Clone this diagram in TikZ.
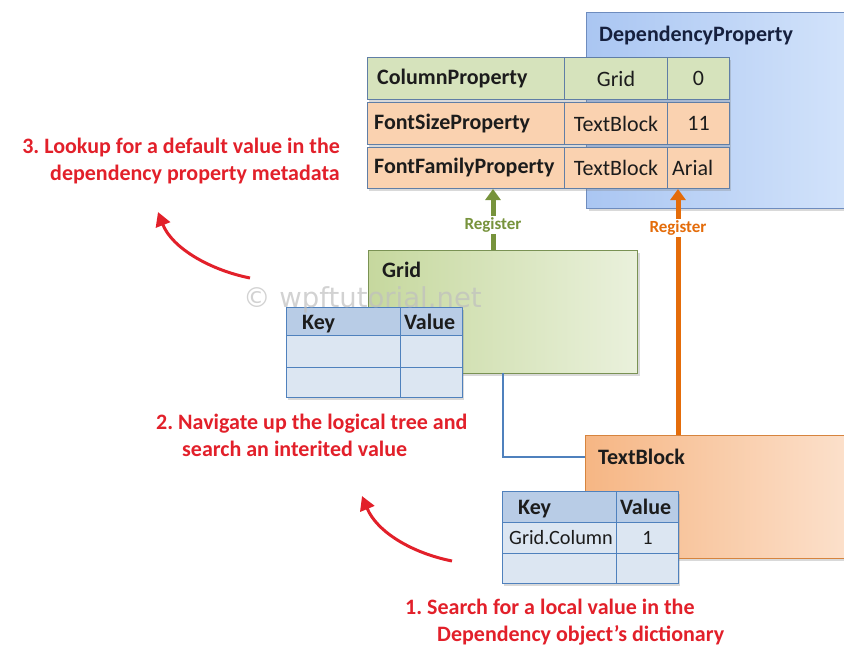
\documentclass[tikz,border=0pt]{standalone}
\usepackage{fontspec}
\setmainfont{Carlito}
\newfontfamily\markfont{DejaVu Sans}
\usetikzlibrary{shadows,arrows.meta}
\frenchspacing

\definecolor{dpL}{RGB}{170,198,242}
\definecolor{dpR}{RGB}{212,228,251}
\definecolor{dpBorder}{RGB}{110,140,190}
\definecolor{gridL}{RGB}{198,216,158}
\definecolor{gridR}{RGB}{234,241,220}
\definecolor{gridBorder}{RGB}{122,146,84}
\definecolor{tbL}{RGB}{246,182,132}
\definecolor{tbR}{RGB}{252,226,206}
\definecolor{tbBorder}{RGB}{214,132,62}
\definecolor{rowGreen}{RGB}{214,227,188}
\definecolor{rowOrange}{RGB}{250,210,176}
\definecolor{rowBorder}{RGB}{96,126,166}
\definecolor{keyHead}{RGB}{184,204,230}
\definecolor{keyCell}{RGB}{220,230,242}
\definecolor{keyBorder}{RGB}{79,129,189}
\definecolor{regGreen}{RGB}{119,147,60}
\definecolor{regOrange}{RGB}{228,108,10}
\definecolor{stepRed}{RGB}{226,32,42}
\definecolor{linkBlue}{RGB}{79,129,189}
\definecolor{ink}{RGB}{28,28,28}
\definecolor{navy}{RGB}{22,32,62}

\begin{document}
\begin{tikzpicture}[x=1pt,y=-1pt,
  shade/.style={drop shadow={shadow xshift=2pt,shadow yshift=-2.5pt,opacity=0.3}},
  classbox/.style={draw, line width=1.3pt, shade, inner sep=0pt, anchor=north west},
  rowcell/.style={draw=rowBorder, line width=1pt, inner sep=0pt, anchor=north west},
  keycell/.style={draw=keyBorder, line width=1pt, inner sep=0pt, anchor=north west},
  bigtxt/.style={font=\fontsize{22}{26}\selectfont\bfseries, text=ink, inner sep=0pt},
  celltxt/.style={font=\fontsize{22}{26}\selectfont, text=ink, inner sep=0pt},
  smalltxt/.style={font=\fontsize{20.3}{24}\selectfont, text=ink, inner sep=0pt},
  reglabel/.style={font=\fontsize{17}{20}\selectfont\bfseries, fill=white, inner sep=1.5pt},
  steplabel/.style={font=\fontsize{22}{26.5}\selectfont\bfseries, text=stepRed, inner sep=0pt},
  register/.style={line width=5pt, -{Triangle[length=11pt,width=15pt]}},
  steparrow/.style={draw=stepRed, line width=3pt, -{Triangle[length=14pt,width=15pt]}},
]
\useasboundingbox (0,0) rectangle (844,648);

% ---- DependencyProperty class and its property table ----
\node[classbox, draw=dpBorder, left color=dpL, right color=dpR,
      minimum width=272pt, minimum height=196pt] (dp) at (586,12) {};
\node[bigtxt, text=navy, anchor=base west] (dpT) at (599,41) {DependencyProperty};

\path[shade] (367,57) rectangle (729,188);
% row 1
\node[rowcell, fill=rowGreen, minimum width=197pt, minimum height=42pt] (r1a) at (367,57) {};
\node[rowcell, fill=rowGreen, minimum width=103pt, minimum height=42pt] (r1b) at (564,57) {};
\node[rowcell, fill=rowGreen, minimum width=62pt,  minimum height=42pt] (r1c) at (667,57) {};
\node[bigtxt, anchor=west] (r1aT) at ([xshift=10pt]r1a.west) {ColumnProperty};
\node[celltxt] (r1bT) at (r1b.center) {Grid};
\node[celltxt] (r1cT) at (r1c.center) {0};
% row 2
\node[rowcell, fill=rowOrange, minimum width=197pt, minimum height=42pt] (r2a) at (367,102) {};
\node[rowcell, fill=rowOrange, minimum width=103pt, minimum height=42pt] (r2b) at (564,102) {};
\node[rowcell, fill=rowOrange, minimum width=62pt,  minimum height=42pt] (r2c) at (667,102) {};
\node[bigtxt, anchor=west] (r2aT) at ([xshift=7pt]r2a.west) {FontSizeProperty};
\node[celltxt] (r2bT) at (r2b.center) {TextBlock};
\node[celltxt] (r2cT) at (r2c.center) {11};
% row 3
\node[rowcell, fill=rowOrange, minimum width=197pt, minimum height=41pt] (r3a) at (367,147) {};
\node[rowcell, fill=rowOrange, minimum width=103pt, minimum height=41pt] (r3b) at (564,147) {};
\node[rowcell, fill=rowOrange, minimum width=62pt,  minimum height=41pt] (r3c) at (667,147) {};
\node[bigtxt, anchor=west] (r3aT) at ([xshift=7pt]r3a.west) {FontFamilyProperty};
\node[celltxt] (r3bT) at (r3b.center) {TextBlock};
\node[celltxt, anchor=west] (r3cT) at ([xshift=5pt]r3c.west) {Arial};

% ---- Grid element ----
\node[classbox, draw=gridBorder, left color=gridL, right color=gridR,
      minimum width=269pt, minimum height=123pt] (grid) at (368,250) {};
\node[bigtxt, anchor=base west] (gridT) at (382,277) {Grid};

% Grid's local value dictionary
\path[shade] (286,307) rectangle (462,397);
\node[keycell, fill=keyHead, minimum width=114pt, minimum height=28pt] (gk1a) at (286,307) {};
\node[keycell, fill=keyHead, minimum width=62pt,  minimum height=28pt] (gk1b) at (400,307) {};
\node[keycell, fill=keyCell, minimum width=114pt, minimum height=32pt] (gk2a) at (286,335) {};
\node[keycell, fill=keyCell, minimum width=62pt,  minimum height=32pt] (gk2b) at (400,335) {};
\node[keycell, fill=keyCell, minimum width=114pt, minimum height=30pt] (gk3a) at (286,367) {};
\node[keycell, fill=keyCell, minimum width=62pt,  minimum height=30pt] (gk3b) at (400,367) {};
\node[bigtxt, anchor=base west] (gkKey) at (302,329) {Key};
\node[bigtxt, anchor=base west] (gkVal) at (404,329) {Value};

% ---- TextBlock element ----
\node[classbox, draw=tbBorder, left color=tbL, right color=tbR,
      minimum width=272pt, minimum height=123pt] (tb) at (585,435) {};
\node[bigtxt, anchor=base west] (tbT) at (598,464) {TextBlock};

% TextBlock's local value dictionary
\path[shade] (502,491) rectangle (678,583);
\node[keycell, fill=keyHead, minimum width=114pt, minimum height=31pt] (tk1a) at (502,491) {};
\node[keycell, fill=keyHead, minimum width=62pt,  minimum height=31pt] (tk1b) at (616,491) {};
\node[keycell, fill=keyCell, minimum width=114pt, minimum height=31pt] (tk2a) at (502,522) {};
\node[keycell, fill=keyCell, minimum width=62pt,  minimum height=31pt] (tk2b) at (616,522) {};
\node[keycell, fill=keyCell, minimum width=114pt, minimum height=30pt] (tk3a) at (502,553) {};
\node[keycell, fill=keyCell, minimum width=62pt,  minimum height=30pt] (tk3b) at (616,553) {};
\node[bigtxt, anchor=base west] (tkKey) at (518,514) {Key};
\node[bigtxt, anchor=base west] (tkVal) at (620,514) {Value};
\node[smalltxt, anchor=west] (tkName) at ([xshift=7pt]tk2a.west) {Grid.Column};
\node[smalltxt] (tkOne) at (tk2b.center) {1};

% ---- logical tree link ----
\coordinate (gridOut) at (503,373);
\coordinate (bend) at (503,457);
\draw[linkBlue, line width=2pt] (gridOut) -- (bend) -- (bend -| tb.west);

% ---- registrations ----
\coordinate (gridUp) at (493,250);
\coordinate (colIn) at (493,189);
\draw[register, regGreen] (gridUp) -- (colIn);
\node[reglabel, text=regGreen] (regG) at (493,225) {Register};

\coordinate (tbUp) at (678,435);
\coordinate (famIn) at (678,189);
\draw[register, regOrange] (tbUp) -- (famIn);
\node[reglabel, text=regOrange] (regO) at (678,228) {Register};

% ---- lookup steps ----
\node[steplabel, align=right, anchor=north east] (step3) at (340,138)
  {3. Lookup for a default value in the\\dependency property metadata};
\coordinate (s3a) at (250,278);
\coordinate (s3b) at (158,212);
\draw[steparrow] (s3a) .. controls (210,270) and (172,248) .. (s3b);

\node[steplabel, align=left, anchor=north west] (step2) at (156,414)
  {2. Navigate up the logical tree and\\\hspace*{26pt}search an interited value};
\coordinate (s2a) at (452,561);
\coordinate (s2b) at (362,496);
\draw[steparrow] (s2a) .. controls (412,553) and (377,532) .. (s2b);

\node[steplabel, align=left, anchor=north west] (step1) at (405,599)
  {1. Search for a local value in the\\\hspace*{32pt}Dependency object’s dictionary};

% ---- watermark ----
\node[font=\markfont\fontsize{27.5}{30}\selectfont, text=gray!50, opacity=0.7, inner sep=0pt,
      anchor=base west] (wm) at (243,307) {© wpftutorial.net};
\end{tikzpicture}
\end{document}
